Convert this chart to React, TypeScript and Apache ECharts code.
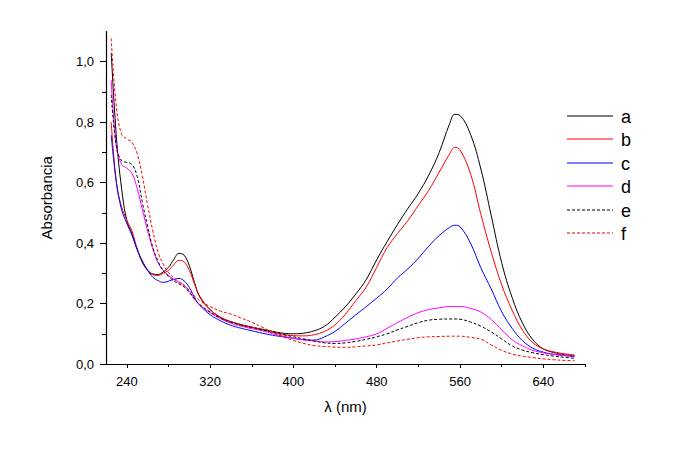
import React, { useEffect, useRef } from "react";
import * as echarts from "echarts";

// Wavelength grid (nm) shared by all spectra
const wavelengths = [
  225, 230, 235, 240, 245, 250, 255, 260, 265, 270, 275, 280, 285, 290, 295,
  300, 305, 310, 320, 330, 340, 350, 360, 370, 380, 390, 400, 410, 420, 430,
  440, 450, 460, 470, 480, 490, 500, 510, 520, 530, 540, 550, 555, 560, 570,
  580, 590, 600, 610, 620, 630, 640, 650, 660, 670,
];

const seriesA = [
  1.03, 0.75, 0.58, 0.475, 0.43, 0.38, 0.335, 0.31, 0.298, 0.296, 0.305, 0.32, 0.345, 0.366, 0.36,
  0.325, 0.27, 0.222, 0.18, 0.154, 0.14, 0.13, 0.122, 0.115, 0.108, 0.102, 0.1, 0.102, 0.11, 0.125,
  0.155, 0.19, 0.232, 0.28, 0.345, 0.405, 0.462, 0.515, 0.565, 0.625, 0.7, 0.795, 0.826, 0.822, 0.76,
  0.645, 0.49, 0.335, 0.22, 0.135, 0.08, 0.05, 0.038, 0.031, 0.027,
];
const seriesB = [
  0.8, 0.6, 0.52, 0.475, 0.44, 0.38, 0.34, 0.31, 0.295, 0.293, 0.3, 0.31, 0.328, 0.343, 0.338,
  0.31, 0.265, 0.225, 0.18, 0.155, 0.14, 0.13, 0.122, 0.113, 0.105, 0.098, 0.094, 0.093, 0.097, 0.108,
  0.13, 0.165, 0.21, 0.255, 0.32, 0.385, 0.432, 0.475, 0.525, 0.575, 0.635, 0.695, 0.717, 0.708, 0.63,
  0.495, 0.37, 0.262, 0.178, 0.112, 0.07, 0.05, 0.04, 0.034, 0.03,
];
const seriesC = [
  0.757, 0.6, 0.51, 0.465, 0.425, 0.377, 0.34, 0.31, 0.287, 0.276, 0.27, 0.274, 0.28, 0.283, 0.275,
  0.253, 0.22, 0.195, 0.163, 0.143, 0.128, 0.118, 0.11, 0.102, 0.095, 0.09, 0.085, 0.08, 0.079, 0.09,
  0.108, 0.135, 0.163, 0.19, 0.218, 0.248, 0.285, 0.315, 0.35, 0.39, 0.425, 0.452, 0.459, 0.454, 0.4,
  0.318, 0.248, 0.173, 0.118, 0.077, 0.052, 0.039, 0.032, 0.028, 0.024,
];
const seriesD = [
  0.94, 0.72, 0.66, 0.648, 0.63, 0.58, 0.51, 0.44, 0.38, 0.335, 0.31, 0.293, 0.28, 0.27, 0.26,
  0.24, 0.215, 0.195, 0.17, 0.15, 0.135, 0.125, 0.117, 0.11, 0.1, 0.092, 0.085, 0.08, 0.076, 0.073,
  0.074, 0.078, 0.083, 0.09, 0.1, 0.118, 0.137, 0.155, 0.17, 0.18, 0.186, 0.19, 0.19, 0.19, 0.184,
  0.172, 0.147, 0.113, 0.08, 0.06, 0.045, 0.037, 0.032, 0.028, 0.026,
];
const seriesE = [
  0.89, 0.72, 0.672, 0.667, 0.66, 0.62, 0.533, 0.455, 0.385, 0.34, 0.308, 0.29, 0.275, 0.265, 0.255,
  0.237, 0.215, 0.197, 0.172, 0.152, 0.138, 0.128, 0.12, 0.113, 0.105, 0.097, 0.09, 0.083, 0.076, 0.07,
  0.068, 0.07, 0.075, 0.082, 0.09, 0.1, 0.113, 0.125, 0.137, 0.145, 0.148, 0.149, 0.149, 0.148, 0.139,
  0.125, 0.106, 0.083, 0.06, 0.046, 0.037, 0.031, 0.026, 0.022, 0.019,
];
const seriesF = [
  1.077, 0.85, 0.76, 0.745, 0.733, 0.695, 0.62, 0.525, 0.44, 0.37, 0.33, 0.303, 0.285, 0.272, 0.26,
  0.243, 0.225, 0.21, 0.19, 0.175, 0.165, 0.152, 0.138, 0.122, 0.105, 0.09, 0.078, 0.068, 0.061, 0.058,
  0.056, 0.055, 0.057, 0.06, 0.063, 0.07, 0.076, 0.082, 0.087, 0.09, 0.091, 0.092, 0.092, 0.092, 0.088,
  0.082, 0.063, 0.045, 0.033, 0.026, 0.021, 0.017, 0.014, 0.012, 0.011,
];

const seriesNames = ["a", "b", "c", "d", "e", "f"];
const seriesValues = [seriesA, seriesB, seriesC, seriesD, seriesE, seriesF];
const seriesColors = ["#000000", "#ff0000", "#0000ff", "#ff00ff", "#000000", "#ff0000"];
const seriesDashed = [false, false, false, false, true, true];

const xMajorTicks = [240, 320, 400, 480, 560, 640];
const xMinorTicks = [280, 360, 440, 520, 600, 680];
const yMajorTicks = [0, 0.2, 0.4, 0.6, 0.8, 1.0];
const yMinorTicks = [0.1, 0.3, 0.5, 0.7, 0.9];

const FONT = "'Liberation Sans', Arial, sans-serif";

// Legend block: sample line + label per series
const LEGEND_X0 = 567;
const LEGEND_X1 = 613;
const LEGEND_TEXT_X = 621;
const LEGEND_TOP = 115.7;
const LEGEND_STEP = 23.5;

export default function App() {
  const ref = useRef<HTMLDivElement>(null);

  useEffect(() => {
    if (!ref.current) return;
    const chart = echarts.init(ref.current, undefined, { renderer: "svg" });

    const axisLine = { show: true, lineStyle: { color: "#000", width: 1.2 } };

    const legendGraphics = seriesNames.flatMap((name, i) => {
      const y = Math.round(LEGEND_TOP + i * LEGEND_STEP);
      const line: any = {
        type: "line",
        shape: { x1: LEGEND_X0, y1: y, x2: LEGEND_X1, y2: y },
        style: { stroke: seriesColors[i], lineWidth: 1.1 },
        silent: true,
      };
      if (seriesDashed[i]) line.style.lineDash = [3, 2];
      return [
        line,
        {
          type: "text",
          x: LEGEND_TEXT_X,
          y: y + 0.5,
          style: {
            text: name,
            fill: "#000",
            font: `18px ${FONT}`,
            verticalAlign: "middle",
          },
          silent: true,
        },
      ];
    });

    const option = {
      animation: false,
      backgroundColor: "#ffffff",
      textStyle: { fontFamily: FONT },
      grid: { left: 106, right: 88, top: 31.5, bottom: 88 },
      graphic: legendGraphics,
      xAxis: [
        {
          type: "value",
          min: 220,
          max: 680,
          name: "λ (nm)",
          nameLocation: "middle",
          nameGap: 35,
          nameTextStyle: { fontFamily: FONT, fontSize: 15, color: "#000" },
          axisLine,
          splitLine: { show: false },
          axisTick: { show: true, length: 4, customValues: xMajorTicks, lineStyle: { color: "#000" } },
          axisLabel: {
            customValues: xMajorTicks,
            margin: 11,
            fontFamily: FONT,
            fontSize: 13,
            color: "#000",
          },
        },
        {
          type: "value",
          min: 220,
          max: 680,
          position: "bottom",
          axisLine: { show: false },
          splitLine: { show: false },
          axisTick: { show: true, length: 3, customValues: xMinorTicks, lineStyle: { color: "#000" } },
          axisLabel: { show: false },
        },
      ],
      yAxis: [
        {
          type: "value",
          min: 0,
          max: 1.1,
          name: "Absorbancia",
          nameLocation: "middle",
          nameGap: 52,
          nameTextStyle: { fontFamily: FONT, fontSize: 15, color: "#000" },
          axisLine,
          splitLine: { show: false },
          axisTick: { show: true, length: 6, customValues: yMajorTicks, lineStyle: { color: "#000" } },
          axisLabel: {
            customValues: yMajorTicks,
            margin: 12,
            fontFamily: FONT,
            fontSize: 13,
            color: "#000",
            formatter: (v: number) => v.toFixed(1).replace(".", ","),
          },
        },
        {
          type: "value",
          min: 0,
          max: 1.1,
          position: "left",
          axisLine: { show: false },
          splitLine: { show: false },
          axisTick: { show: true, length: 4, customValues: yMinorTicks, lineStyle: { color: "#000" } },
          axisLabel: { show: false },
        },
      ],
      series: seriesNames.map((name, i) => ({
        name,
        type: "line",
        xAxisIndex: 0,
        yAxisIndex: 0,
        data: wavelengths.map((w, j) => [w, seriesValues[i][j]]),
        smooth: 0.4,
        symbol: "none",
        showSymbol: false,
        clip: true,
        color: seriesColors[i],
        lineStyle: {
          color: seriesColors[i],
          width: 1,
          type: seriesDashed[i] ? [3, 2] : "solid",
        },
      })),
    };

    chart.setOption(option as any);
    return () => chart.dispose();
  }, []);

  return (
    <div
      ref={ref}
      style={{ position: "fixed", left: 0, top: 0, width: 673, height: 452, background: "#fff" }}
    />
  );
}
